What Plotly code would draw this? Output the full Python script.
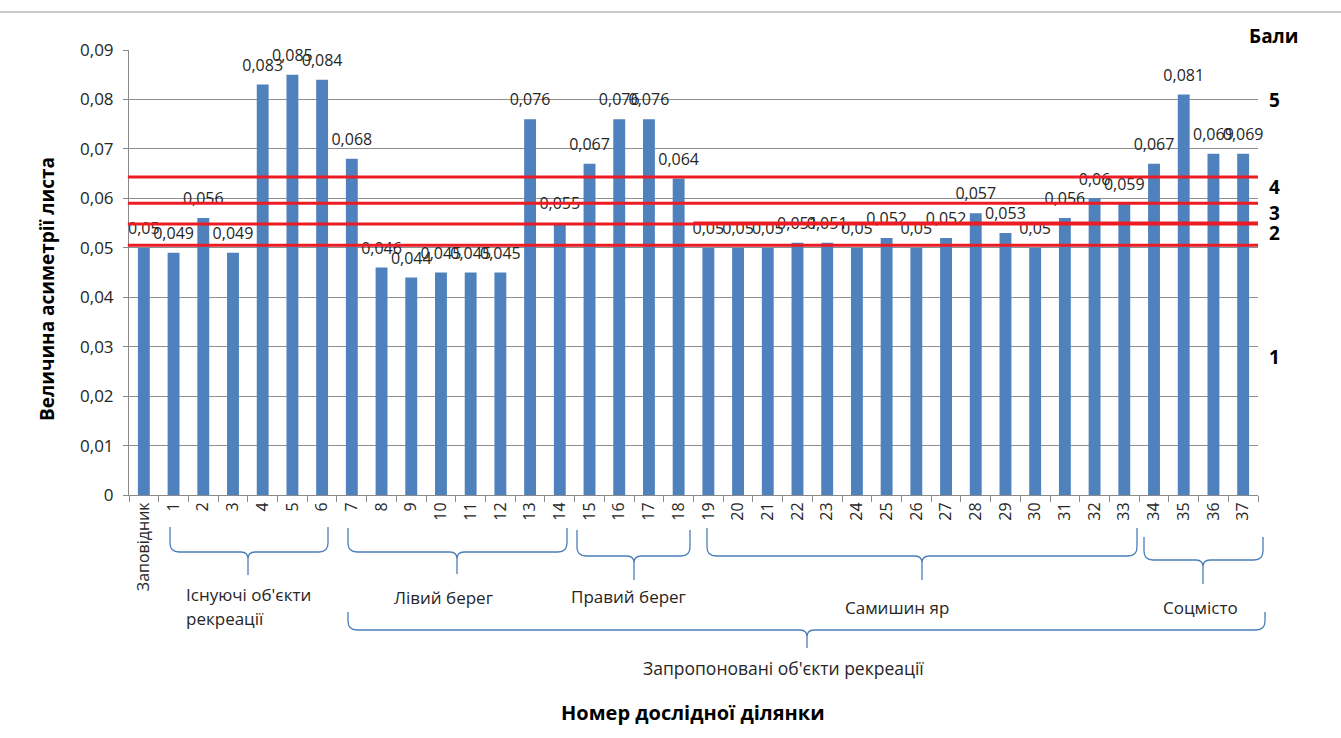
import plotly.graph_objects as go

# ---- data -------------------------------------------------------------
categories = ["Заповідник"] + [str(i) for i in range(1, 38)]
asymmetry = [
    0.050, 0.049, 0.056, 0.049, 0.083, 0.085, 0.084, 0.068, 0.046, 0.044,
    0.045, 0.045, 0.045, 0.076, 0.055, 0.067, 0.076, 0.076, 0.064, 0.050,
    0.050, 0.050, 0.051, 0.051, 0.050, 0.052, 0.050, 0.052, 0.057, 0.053,
    0.050, 0.056, 0.060, 0.059, 0.067, 0.081, 0.069, 0.069,
]
# score thresholds (boundaries between points 1..5)
score_thresholds = [0.0505, 0.0548, 0.0590, 0.0643]
score_labels = ["1", "2", "3", "4", "5"]
y_ticks = [0, 0.01, 0.02, 0.03, 0.04, 0.05, 0.06, 0.07, 0.08, 0.09]
y_tick_text = ["0", "0,01", "0,02", "0,03", "0,04", "0,05", "0,06", "0,07", "0,08", "0,09"]

value_text = [("%g" % v).replace(".", ",") for v in asymmetry]

# ---- geometry helpers (pixel -> paper) ---------------------------------
W, H = 1341, 738
PL, PR, PT, PB = 129, 1258, 50, 495


def px(x):
    return (x - PL) / (PR - PL)


def py(y):
    return (PB - y) / (PB - PT)


FONT = "Open Sans"
TXT = "#262626"
BRACE = "#4a7ebb"

fig = go.Figure()

fig.add_trace(go.Bar(
    x=categories, y=asymmetry,
    marker=dict(color="#4f81bd", line=dict(width=0)),
    hoverinfo="skip", showlegend=False,
))

# value labels above the bars
fig.add_trace(go.Scatter(
    x=categories, y=asymmetry, text=value_text,
    mode="markers+text", textposition="top center",
    marker=dict(size=14, opacity=0),
    textfont=dict(family=FONT, size=16, color=TXT),
    hoverinfo="skip", showlegend=False, cliponaxis=False,
))

shapes = []
# red score threshold lines
for t in score_thresholds:
    shapes.append(dict(type="line", xref="paper", yref="y", x0=-0.001, x1=1.0,
                       y0=t, y1=t, line=dict(color="#ec1c24", width=3), layer="above"))
# short overlapping segment on the second line
shapes.append(dict(type="line", xref="x", yref="y", x0=18.5, x1=37.5,
                   y0=score_thresholds[1] + 0.0002, y1=score_thresholds[1] + 0.0002,
                   line=dict(color="#ec1c24", width=3), layer="above"))

# top border line of the chart area
shapes.append(dict(type="line", xref="paper", yref="paper", x0=px(0), x1=px(W),
                   y0=py(12), y1=py(12), line=dict(color="#c9c9c9", width=2)))


def brace_path(xl, xr, yt, yh, xc, yp, r=9, rc=7):
    pts = [
        ("M", (xl, yt)), ("L", (xl, yh - r)), ("Q", (xl, yh), (xl + r, yh)),
        ("L", (xc - rc, yh)), ("Q", (xc, yh), (xc, yh + rc)), ("L", (xc, yp)),
        ("M", (xc, yh + rc)), ("Q", (xc, yh), (xc + rc, yh)),
        ("L", (xr - r, yh)), ("Q", (xr, yh), (xr, yh - r)), ("L", (xr, yt)),
    ]
    s = ""
    for p in pts:
        s += p[0] + " " + " ".join("%.5f,%.5f" % (px(a), py(b)) for a, b in p[1:]) + " "
    return s.strip()


# group braces: left, right, top, horizontal, centre, tip (pixels)
braces = [
    (170, 328, 527, 552, 248, 575),
    (348, 567, 528, 552, 457, 574),
    (577, 690, 530, 556, 634, 580),
    (707, 1137, 528, 556, 922, 580),
    (1144, 1263, 537, 560, 1203, 584),
    (348, 1265, 612, 630, 807, 648),
]
for b in braces:
    shapes.append(dict(type="path", xref="paper", yref="paper", path=brace_path(*b),
                       line=dict(color=BRACE, width=1.3)))

annotations = []


def note(text, x, y, size=17, bold=False, xanchor="center", angle=0, color=TXT):
    annotations.append(dict(
        text="<b>%s</b>" % text if bold else text,
        x=px(x), y=py(y), xref="paper", yref="paper",
        xanchor=xanchor, yanchor="middle", showarrow=False, textangle=angle,
        font=dict(family=FONT, size=size, color=color),
    ))


note("Існуючі об'єкти", 184, 594, xanchor="left")
note("рекреації", 184, 618, xanchor="left")
note("Лівий берег", 443, 597)
note("Правий берег", 628, 596)
note("Самишин яр", 897, 607)
note("Соцмісто", 1200, 607)
note("Запропоновані об'єкти рекреації", 783, 668, size=17.5)
note("Номер дослідної ділянки", 693, 712, size=20, bold=True, color="#000000")
note("Величина асиметрії листа", 47, 289, size=19, bold=True, angle=-90, color="#000000")

# score scale on the right
note("Бали", 1274, 36, size=19, bold=True, color="#000000")
score_pos = [357, 233, 213, 187, 100]
for lab, yy in zip(score_labels, score_pos):
    note(lab, 1274, yy, size=19, bold=True, color="#000000")

fig.update_layout(
    width=W, height=H,
    margin=dict(l=PL, r=W - PR, t=PT, b=H - PB),
    paper_bgcolor="white", plot_bgcolor="white",
    bargap=0.6,
    showlegend=False,
    shapes=shapes,
    annotations=annotations,
    font=dict(family=FONT, color=TXT),
    xaxis=dict(
        type="category", tickangle=-90, tickson="boundaries",
        ticks="outside", ticklen=6, tickcolor="#8a8a8a",
        showline=True, linecolor="#8a8a8a", linewidth=1,
        showgrid=False, tickfont=dict(family=FONT, size=16, color=TXT),
        range=[-0.5, 37.5],
    ),
    yaxis=dict(
        range=[0, 0.09], tickvals=y_ticks, ticktext=y_tick_text,
        ticks="outside", ticklen=5, tickcolor="#8a8a8a",
        showline=True, linecolor="#8a8a8a", linewidth=1,
        showgrid=True, gridcolor="#8f8f8f", gridwidth=1,
        zeroline=False, ticklabelstandoff=6,
        tickfont=dict(family=FONT, size=17, color=TXT),
    ),
)

fig.write_html("out.html")
